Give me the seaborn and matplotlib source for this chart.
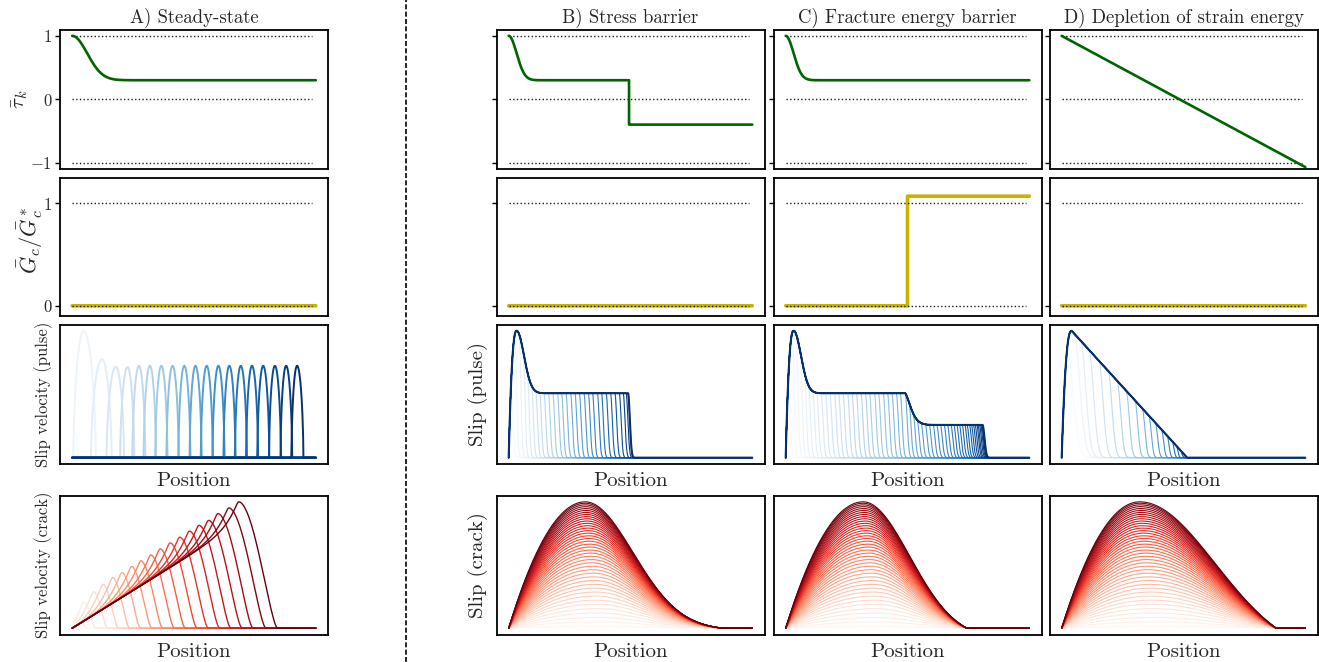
import numpy as np
import pandas as pd
import matplotlib
matplotlib.use("Agg")
import matplotlib.pyplot as plt
from matplotlib.lines import Line2D
import seaborn as sns

# ---------------- texts ----------------
panel_titles = ["A) Steady-state", "B) Stress barrier",
                "C) Fracture energy barrier", "D) Depletion of strain energy"]
tau_label = r"$\bar{\tau}_k$"
gc_label = r"$\bar{G}_c/\bar{G}_c^*$"
vel_pulse_label = "Slip velocity (pulse)"
vel_crack_label = "Slip velocity (crack)"
slip_pulse_label = "Slip (pulse)"
slip_crack_label = "Slip (crack)"
position_label = "Position"

tau_ticks = [-1, 0, 1]
tau_tick_labels = ["$-1$", "$0$", "$1$"]
gc_ticks = [0, 1]
gc_tick_labels = ["$0$", "$1$"]
dotted_end = 0.985

# ---------------- row 1: prestress ----------------
tau_start = 1.0
tau_A_level = 0.30
tau_A_drop_width = 0.087
tau_BC_level = 0.30
tau_BC_drop_width = 0.046
tau_B_barrier_x = 0.494
tau_B_after = -0.40
tau_D_end = -1.07

# ---------------- row 2: fracture energy ----------------
gc_level = 0.0
gc_C_barrier_x = 0.50
gc_C_after = 1.068

# ---------------- row 3, A: slip velocity pulses ----------------
pulseA_center = [0.012, 0.047, 0.122, 0.179, 0.227, 0.274, 0.319, 0.366, 0.412, 0.460,
                 0.506, 0.552, 0.600, 0.645, 0.692, 0.738, 0.784, 0.832, 0.878, 0.923]
pulseA_height = [0.26, 1.38, 1.07, 0.99, 0.985, 1.0, 1.0, 1.0, 1.0, 1.0,
                 1.0, 1.0, 1.0, 1.0, 1.0, 1.0, 1.0, 1.0, 1.0, 1.0]
pulseA_left_r = [0.010, 0.042, 0.045, 0.038, 0.030, 0.027, 0.026, 0.025, 0.025, 0.024,
                 0.024, 0.024, 0.024, 0.024, 0.024, 0.024, 0.024, 0.024, 0.023, 0.023]
pulseA_right_r = [0.012, 0.050, 0.040, 0.034, 0.028, 0.026, 0.025, 0.025, 0.025, 0.025,
                  0.025, 0.025, 0.025, 0.025, 0.025, 0.025, 0.025, 0.025, 0.025, 0.026]
pulseA_power = 0.6

# ---------------- row 4, A: slip velocity of the crack ----------------
crackA_peak_x = [0.0136, 0.0449, 0.0857, 0.1238, 0.1633, 0.2014, 0.2408, 0.2789, 0.3197,
                 0.3578, 0.3986, 0.4381, 0.4776, 0.5170, 0.5565, 0.5946, 0.6395, 0.6803]
crackA_peak_v = [0.12, 0.212, 0.294, 0.352, 0.405, 0.444, 0.492, 0.537, 0.582,
                 0.630, 0.677, 0.722, 0.770, 0.815, 0.854, 0.907, 0.952, 1.0]
crackA_end_x = [0.056, 0.093, 0.141, 0.186, 0.232, 0.277, 0.323, 0.368, 0.416,
                0.461, 0.509, 0.555, 0.602, 0.648, 0.694, 0.739, 0.792, 0.840]
crackA_slope = 1.19
crackA_bump_width = 0.05
crackA_fall_power = 1.3

# ---------------- row 3, B-D: slip of the pulse ----------------
slip_peak_x = 0.033
slip_peak_xD = 0.041
slip_plateau = 0.508
slip_plateau_C2 = 0.258
slip_decay_width = 0.042
slip_C_barrier_x = 0.490
slip_C_decay_width = 0.033
slip_D_zero_x = 0.515
frontsB = [0.008, 0.025, 0.043, 0.060, 0.077, 0.094, 0.111, 0.127, 0.145, 0.163,
           0.181, 0.200, 0.217, 0.235, 0.254, 0.272, 0.290, 0.309, 0.327, 0.344,
           0.364, 0.381, 0.400, 0.418, 0.436, 0.454, 0.470, 0.482, 0.490]
front_width_B = 0.010
frontsC = [0.008, 0.025, 0.043, 0.060, 0.077, 0.094, 0.111, 0.127, 0.145, 0.163,
           0.181, 0.200, 0.217, 0.235, 0.254, 0.272, 0.290, 0.309, 0.327, 0.344,
           0.364, 0.381, 0.400, 0.418, 0.436, 0.454, 0.470,
           0.491, 0.507, 0.524, 0.540, 0.556, 0.573, 0.589, 0.605, 0.620, 0.635,
           0.650, 0.664, 0.678, 0.690, 0.702, 0.713, 0.724, 0.735, 0.744, 0.754,
           0.762, 0.770, 0.777, 0.784, 0.789, 0.795, 0.800, 0.804, 0.808]
front_width_C = 0.011
frontsD = [0.014, 0.051, 0.078, 0.112, 0.153, 0.191, 0.228, 0.265, 0.301, 0.331,
           0.358, 0.385, 0.410, 0.433, 0.454, 0.471, 0.488, 0.501, 0.510, 0.515]
front_width_D = [0.040, 0.034, 0.030, 0.027, 0.024, 0.022, 0.020, 0.018, 0.016, 0.015,
                 0.014, 0.013, 0.012, 0.011, 0.010, 0.009, 0.009, 0.008, 0.008, 0.008]

# ---------------- row 4, B-D: slip of the crack ----------------
crack_amp = [0.015, 0.05, 0.085, 0.12, 0.155, 0.19, 0.222, 0.254, 0.286, 0.317,
             0.347, 0.377, 0.406, 0.435, 0.463, 0.49, 0.517, 0.543, 0.569, 0.594,
             0.618, 0.642, 0.665, 0.688, 0.71, 0.731, 0.752, 0.772, 0.792, 0.811,
             0.83, 0.848, 0.866, 0.883, 0.9, 0.916, 0.932, 0.947, 0.962, 0.976,
             0.989, 1.0]
crack_peak_x = [0.314, 0.318, 0.320]      # B, C, D
crack_fall_width = [0.277, 0.270, 0.440]  # B, C, D
crack_end_x = [0.877, 0.743, 0.880]       # B, C, D
crack_peak_shift = 0.06

# ---------------- style ----------------
sns.set_theme(style="white")
plt.rcParams.update({
    "font.family": ["cmr10"],
    "mathtext.fontset": "cm",
    "axes.unicode_minus": False,
    "axes.formatter.use_mathtext": True,
    "axes.edgecolor": "black",
    "axes.linewidth": 1.3,
    "axes.facecolor": "white",
})

GREEN = "darkgreen"
YELLOW = "#c8b400"

xg = np.linspace(0.0, 1.0, 1201)

W, H = 1319, 662
fig = plt.figure(figsize=(W / 100, H / 100), dpi=100)
col_left = [60.0, 496.5, 773.5, 1049.5]
col_w = 268.0
row_top = [29.5, 177.5, 324.5, 495.5]
row_h = [139.5, 138.5, 139.5, 139.0]


def px_axes(l, t, w, h):
    return fig.add_axes([l / W, 1 - (t + h) / H, w / W, h / H])


axes = [[px_axes(col_left[c], row_top[r], col_w, row_h[r]) for c in range(4)] for r in range(4)]


def line(ax, xs, ys, color, lw, z=3):
    sns.lineplot(x=xs, y=ys, color=color, linewidth=lw, estimator=None, sort=False, ax=ax, zorder=z)


def draw_family(ax, curves, cmap_name, lw, outer_lw=None):
    n = len(curves)
    names = [f"t{i:02d}" for i in range(n)]
    df = pd.concat([pd.DataFrame({"x": xg, "y": y, "curve": nm}) for nm, y in zip(names, curves)],
                   ignore_index=True)
    cmap = plt.get_cmap(cmap_name)
    pal = [cmap(v) for v in np.linspace(0, 1, n)]
    sns.lineplot(data=df, x="x", y="y", hue="curve", hue_order=names, palette=pal,
                 estimator=None, sort=False, legend=False, linewidth=lw, ax=ax)
    if outer_lw:
        line(ax, xg, curves[-1], pal[-1], outer_lw)


def step_xy(xb, before, after):
    lo = xg < xb
    hi = xg > xb
    xs = np.concatenate([xg[lo], [xb, xb], xg[hi]])
    ys = np.concatenate([before[lo], [before[lo][-1], after[hi][0]], after[hi]])
    return xs, ys


# ---------- row 1 ----------
tauA = tau_A_level + (tau_start - tau_A_level) * np.exp(-(xg / tau_A_drop_width) ** 2)
tauBC = tau_BC_level + (tau_start - tau_BC_level) * np.exp(-(xg / tau_BC_drop_width) ** 2)
line(axes[0][0], xg, tauA, GREEN, 1.9)
bx, by = step_xy(tau_B_barrier_x, tauBC, np.full_like(xg, tau_B_after))
line(axes[0][1], bx, by, GREEN, 1.9)
line(axes[0][2], xg, tauBC, GREEN, 1.9)
line(axes[0][3], [0.0, 1.0], [tau_start, tau_D_end], GREEN, 1.9)

# ---------- row 2 ----------
gc0 = np.full_like(xg, gc_level)
for c in (0, 1, 3):
    line(axes[1][c], xg, gc0, YELLOW, 2.6, z=2)
cx, cy = step_xy(gc_C_barrier_x, gc0, np.full_like(xg, gc_C_after))
line(axes[1][2], cx, cy, YELLOW, 2.6, z=2)

# ---------- row 3, A ----------
pulses = []
for c, h, rl, rr in zip(pulseA_center, pulseA_height, pulseA_left_r, pulseA_right_r):
    y = np.zeros_like(xg)
    lm = (xg >= c - rl) & (xg <= c)
    y[lm] = h * (1 - ((c - xg[lm]) / rl) ** 2) ** pulseA_power
    rm = (xg > c) & (xg <= c + rr)
    y[rm] = h * (1 - ((xg[rm] - c) / rr) ** 2) ** pulseA_power
    pulses.append(y)
draw_family(axes[2][0], pulses, "Blues", 1.4)


# ---------- row 4, A ----------
def smooth(y, s):
    r = int(4 * s)
    k = np.exp(-0.5 * (np.arange(-r, r + 1) / s) ** 2)
    k /= k.sum()
    ypad = np.concatenate([-y[r:0:-1], y, np.zeros(r)])
    return np.convolve(ypad, k, mode="valid")


cracks_v = []
for xp, vp, xe in zip(crackA_peak_x, crackA_peak_v, crackA_end_x):
    cb = vp - crackA_slope * xp
    m = max(1.0, xp / crackA_bump_width)
    y = np.zeros_like(xg)
    lm = xg <= xp
    y[lm] = crackA_slope * xg[lm] + cb * (xg[lm] / xp) ** m
    rm = (xg > xp) & (xg < xe)
    y[rm] = vp * np.cos(0.5 * np.pi * (xg[rm] - xp) / (xe - xp)) ** crackA_fall_power
    cracks_v.append(smooth(y, 5))
draw_family(axes[3][0], cracks_v, "Reds", 1.0)

# ---------- row 3, B-D ----------
rise = 1 - (1 - np.clip(xg / slip_peak_x, 0, 1)) ** 2.5
decay = slip_plateau + (1 - slip_plateau) * np.exp(-((xg - slip_peak_x) / slip_decay_width) ** 2)
envB = np.where(xg < slip_peak_x, rise, decay)
dC = np.clip(xg - slip_C_barrier_x, 0, None)
envC = np.where(xg < slip_C_barrier_x, envB,
                slip_plateau_C2 + (slip_plateau - slip_plateau_C2) * np.exp(-(dC / slip_C_decay_width) ** 1.5))
riseD = 1 - (1 - np.clip(xg / slip_peak_xD, 0, 1)) ** 2.5
envD = np.where(xg < slip_peak_xD, riseD,
                np.clip(1 - (xg - slip_peak_xD) / (slip_D_zero_x - slip_peak_xD), 0, None))


def taper(f, d):
    return np.where(xg <= f, 1.0, np.exp(-((xg - f) / d) ** 2))


draw_family(axes[2][1], [envB * taper(f, front_width_B) for f in frontsB], "Blues", 0.8, 1.5)
draw_family(axes[2][2], [envC * taper(f, front_width_C) for f in frontsC], "Blues", 0.8, 1.5)
draw_family(axes[2][3], [envD * taper(f, d) for f, d in zip(frontsD, front_width_D)], "Blues", 0.8, 1.5)


# ---------- row 4, B-D ----------
def crack_slip(amp, p, w, e):
    y = np.zeros_like(xg)
    lm = xg <= p
    y[lm] = 1 - (1 - xg[lm] / p) ** 2
    rm = (xg > p) & (xg < e)
    g = np.exp(-((xg[rm] - p) / w) ** 2)
    ge = np.exp(-((e - p) / w) ** 2)
    y[rm] = (g - ge) / (1 - ge)
    return amp * y


for c in range(3):
    curves = [crack_slip(a, crack_peak_x[c] + crack_peak_shift * (1 - a), crack_fall_width[c], crack_end_x[c])
              for a in crack_amp]
    draw_family(axes[3][c + 1], curves, "Reds", 0.8)

# ---------- axes decoration ----------
for c in range(4):
    ax = axes[0][c]
    ax.hlines(tau_ticks, 0, dotted_end, colors="k", linestyles=":", lw=1.0, zorder=2.5)
    ax.set_ylim(-1.1, 1.1)
    ax.set_yticks(tau_ticks)
    ax.set_yticklabels(tau_tick_labels if c == 0 else [])
    ax.set_title(panel_titles[c], fontsize=13.5, pad=5)
    ax = axes[1][c]
    ax.hlines(gc_ticks, 0, dotted_end, colors="k", linestyles=":", lw=1.0, zorder=2.5)
    ax.set_ylim(-0.1, 1.25)
    ax.set_yticks(gc_ticks)
    ax.set_yticklabels(gc_tick_labels if c == 0 else [])
    for r in range(4):
        ax = axes[r][c]
        ax.set_xticks([])
        ax.set_xlabel("")
        ax.set_ylabel("")
        if r >= 2:
            ax.set_yticks([])
            ax.set_xlabel(position_label, fontsize=15, labelpad=6)
        else:
            ax.tick_params(axis="y", left=True, length=3.5, width=1.0, direction="out",
                           labelsize=12, pad=2, color="black")
        for s in ax.spines.values():
            s.set_visible(True)
            s.set_color("black")
            s.set_linewidth(1.3)


def ylab(text, xpx, ypx, size):
    fig.text(xpx / W, 1 - ypx / H, text, rotation=90, ha="center", va="center", fontsize=size)


ylab(tau_label, 20, 99, 15)
ylab(gc_label, 30, 240, 16)
ylab(vel_pulse_label, 44, 394, 12)
ylab(vel_crack_label, 44, 565, 12)
ylab(slip_pulse_label, 478, 394, 15)
ylab(slip_crack_label, 478, 565, 15)

fig.add_artist(Line2D([405.5 / W, 405.5 / W], [0, 1], transform=fig.transFigure,
                      color="black", lw=1.2, ls=(0, (3, 1.4))))

fig.savefig("out.png", dpi=100)
